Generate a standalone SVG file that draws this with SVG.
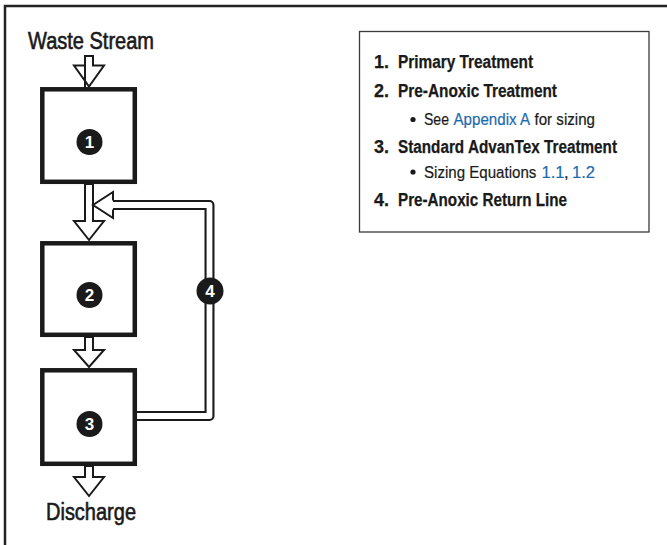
<svg xmlns="http://www.w3.org/2000/svg" width="667" height="545" viewBox="0 0 667 545">
<style>
.frame{fill:none;stroke:#232323;stroke-width:2.5}
.box{fill:#fff;stroke:#1a1a1a;stroke-width:4.5}
.harrow{fill:#fff;stroke:#1a1a1a;stroke-width:2;stroke-linejoin:miter}
.badge{fill:#1a1a1a}
.bnum{font-family:"Liberation Sans",Arial,sans-serif;font-weight:bold;font-size:17px;fill:#fff;text-anchor:middle}
.big{font-family:"Liberation Sans",Arial,sans-serif;font-size:23px;fill:#1a1a1a;stroke:#1a1a1a;stroke-width:0.6}
.item{font-family:"Liberation Sans",Arial,sans-serif;font-weight:bold;font-size:18px;fill:#1a1a1a;stroke:#1a1a1a;stroke-width:0.25}
.sub{font-family:"Liberation Sans",Arial,sans-serif;font-size:16.5px;fill:#1a1a1a;stroke:#1a1a1a;stroke-width:0.2}
.link{fill:#1b6aae;stroke:#1b6aae}
</style>
<path class="frame" d="M5,545 V6 H667"/>

<g id="connectors">
  <polygon id="in-arrow" class="harrow" points="85,89 85,65.5 74,65.5 89,86.5 104,65.5 93,65.5 93,56 85,56"/>
  <polygon id="a12" class="harrow" points="85,184 85,221 74,221 89,240 104,221 93,221 93,184"/>
  <polygon id="a23" class="harrow" points="85,337 85,350 74,350 89,367 104,350 93,350 93,337"/>
  <polygon id="aout" class="harrow" points="85,466 85,477 74,477 89,496 104,477 93,477 93,466"/>
  <g id="return-line">
    <polygon points="93,205 113,192 113,218" fill="#fff"/>
    <path d="M137,416 H209.5 V205 H113" fill="none" stroke="#1a1a1a" stroke-width="10" stroke-linejoin="round"/>
    <path d="M136,416 H209.5 V205 H112" fill="none" stroke="#fff" stroke-width="5.8" stroke-linejoin="round"/>
    <polyline points="113,200.5 113,192 93,205 113,218 113,209.5" fill="none" stroke="#1a1a1a" stroke-width="2"/>
  </g>
</g>

<g id="node1">
  <rect class="box" x="42.3" y="89.3" width="92.5" height="92.5"/>
  <circle class="badge" cx="89.5" cy="142" r="13"/>
  <text class="bnum" x="89.5" y="148">1</text>
</g>
<g id="node2">
  <rect class="box" x="42.3" y="243.3" width="92.5" height="91.5"/>
  <circle class="badge" cx="89.5" cy="295" r="13"/>
  <text class="bnum" x="89.5" y="301">2</text>
</g>
<g id="node3">
  <rect class="box" x="42.3" y="370.3" width="92.5" height="93.5"/>
  <circle class="badge" cx="89.5" cy="424" r="13"/>
  <text class="bnum" x="89.5" y="430">3</text>
</g>
<g id="node4">
  <circle class="badge" cx="210" cy="291" r="13.5"/>
  <text class="bnum" x="210" y="297">4</text>
</g>

<g id="label-waste">
  <text class="big" x="28" y="48.5" textLength="126" lengthAdjust="spacingAndGlyphs">Waste Stream</text>
</g>
<g id="label-discharge">
  <text class="big" x="46" y="519.5" textLength="90" lengthAdjust="spacingAndGlyphs">Discharge</text>
</g>

<g id="legend">
  <rect x="359.5" y="31.5" width="289.5" height="200.5" fill="#fff" stroke="#3a3a3a" stroke-width="1.3"/>
  <text class="item" x="374" y="68">1.</text>
  <text class="item" x="398" y="68" textLength="135" lengthAdjust="spacingAndGlyphs">Primary Treatment</text>
  <text class="item" x="374" y="97">2.</text>
  <text class="item" x="398" y="97" textLength="159" lengthAdjust="spacingAndGlyphs">Pre-Anoxic Treatment</text>
  <circle cx="413" cy="119.5" r="2.6" fill="#1a1a1a"/>
  <text class="sub" x="424" y="125" textLength="25" lengthAdjust="spacingAndGlyphs">See</text>
  <text class="sub link" x="453.5" y="125" textLength="76.5" lengthAdjust="spacingAndGlyphs">Appendix A</text>
  <text class="sub" x="534.5" y="125" textLength="60.5" lengthAdjust="spacingAndGlyphs">for sizing</text>
  <text class="item" x="374" y="153">3.</text>
  <text class="item" x="398" y="153" textLength="219" lengthAdjust="spacingAndGlyphs">Standard AdvanTex Treatment</text>
  <circle cx="413" cy="172" r="2.6" fill="#1a1a1a"/>
  <text class="sub" transform="translate(424,177.5) scale(0.915,1)">Sizing Equations</text>
  <text class="sub link" x="541.5" y="177.5" font-size="15">1.1</text>
  <text class="sub" x="564" y="177.5">,</text>
  <text class="sub link" x="572" y="177.5" font-size="15">1.2</text>
  <text class="item" x="374" y="206">4.</text>
  <text class="item" x="398" y="206" textLength="169" lengthAdjust="spacingAndGlyphs">Pre-Anoxic Return Line</text>
</g>
</svg>
